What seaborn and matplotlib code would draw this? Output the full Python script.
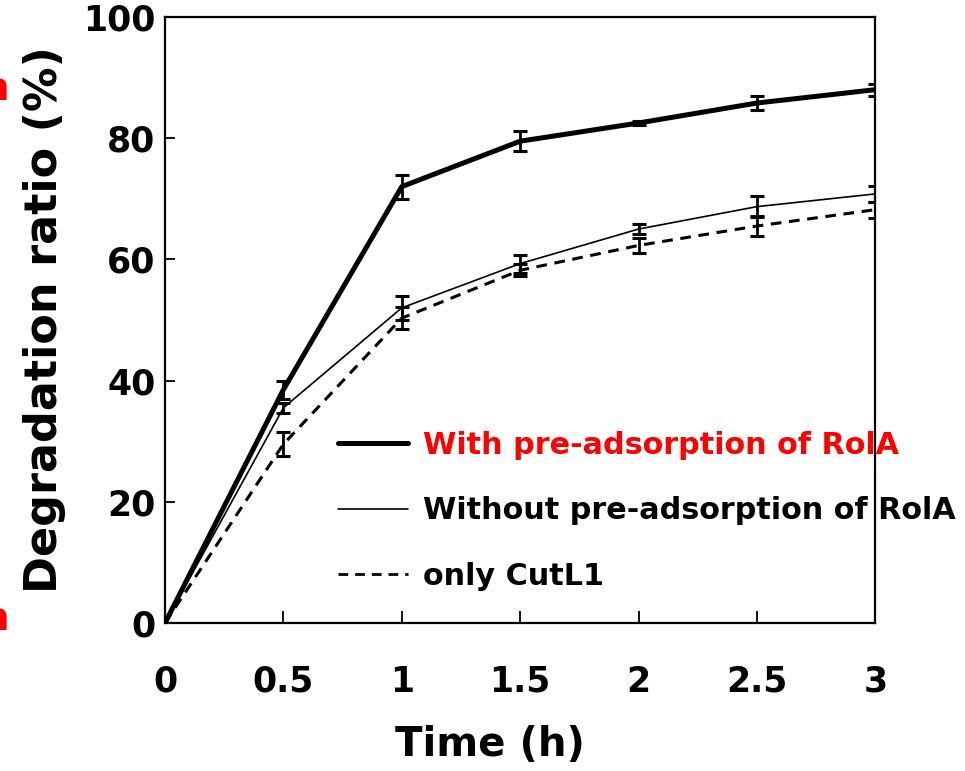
import numpy as np
import pandas as pd
import matplotlib
matplotlib.use("Agg")
import matplotlib.pyplot as plt
from matplotlib.lines import Line2D
import seaborn as sns

# Données
time_h = [0, 0.5, 1, 1.5, 2, 2.5, 3]
with_rola = [0, 38.5, 72.0, 79.5, 82.5, 85.8, 88.0]
with_rola_err = [0, 1.5, 2.0, 1.6, 0.4, 1.2, 1.0]
without_rola = [0, 35.5, 52.0, 59.3, 65.0, 68.7, 70.8]
without_rola_err = [0, 0.8, 2.0, 1.5, 0.8, 1.7, 1.3]
only_cutl1 = [0, 29.5, 50.3, 58.2, 62.3, 65.5, 68.2]
only_cutl1_err = [0, 2.0, 1.8, 1.0, 1.3, 1.7, 1.3]

labels = ["With pre-adsorption of RolA", "Without pre-adsorption of RolA", "only CutL1"]
x_ticks = [0, 0.5, 1, 1.5, 2, 2.5, 3]
x_tick_labels = ["0", "0.5", "1", "1.5", "2", "2.5", "3"]
y_ticks = [0, 20, 40, 60, 80, 100]

sns.set_style("ticks")
plt.rcParams["font.family"] = ["DejaVu Sans"]
plt.rcParams["font.weight"] = "bold"
plt.rcParams["text.color"] = "black"
plt.rcParams["axes.labelcolor"] = "black"
plt.rcParams["xtick.color"] = "black"
plt.rcParams["ytick.color"] = "black"

fig = plt.figure(figsize=(9.65, 7.71), dpi=100)
ax = fig.add_axes([0.171, 0.192, 0.736, 0.786])

series = [
    (with_rola, with_rola_err, 3.6, "-"),
    (without_rola, without_rola_err, 1.2, "-"),
    (only_cutl1, only_cutl1_err, 2.2, (0, (3.5, 2.5))),
]
for vals, err, lw, ls in series:
    sns.lineplot(x=time_h, y=vals, ax=ax, color="black", linewidth=lw, linestyle=ls)
    ax.errorbar(time_h, vals, yerr=err, fmt="none", ecolor="black",
                elinewidth=2, capsize=5, capthick=2.2)

ax.set_xlim(0, 3)
ax.set_ylim(0, 100)
ax.set_xticks(x_ticks)
ax.set_xticklabels(x_tick_labels)
ax.set_yticks(y_ticks)
for s in ax.spines.values():
    s.set_linewidth(1.6)
    s.set_color("black")
ax.tick_params(axis="x", direction="in", length=9, width=1.3, pad=30, labelsize=25, colors="black")
ax.tick_params(axis="y", direction="in", length=7, width=1.3, pad=7, labelsize=25, colors="black")
for t in ax.get_xticklabels() + ax.get_yticklabels():
    t.set_fontweight("bold")

ax.set_xlabel("Time (h)", fontsize=29, fontweight="bold", color="black")
ax.xaxis.set_label_coords(0.458, -0.168)
ax.set_ylabel("Degradation ratio (%)", fontsize=32, fontweight="bold", color="black")
ax.yaxis.set_label_coords(-0.14, 0.5)

handles = [
    Line2D([], [], color="black", linewidth=3.6),
    Line2D([], [], color="black", linewidth=1.2),
    Line2D([], [], color="black", linewidth=2.0, linestyle=(0, (3.5, 2.5))),
]
leg = ax.legend(handles, labels, loc="upper left", bbox_to_anchor=(0.205, 0.362),
                frameon=False, handlelength=2.3, handletextpad=0.5,
                labelspacing=1.2, prop={"weight": "bold", "size": 21.8})
for t in leg.get_texts():
    t.set_color("black")
leg.get_texts()[0].set_color("red")

# fragments rouges coupés au bord gauche
fig.text(-0.019, 0.87, "n", color="red", fontsize=28, fontweight="bold")
fig.text(-0.019, 0.183, "n", color="red", fontsize=28, fontweight="bold")

plt.savefig("out.png", dpi=100)
